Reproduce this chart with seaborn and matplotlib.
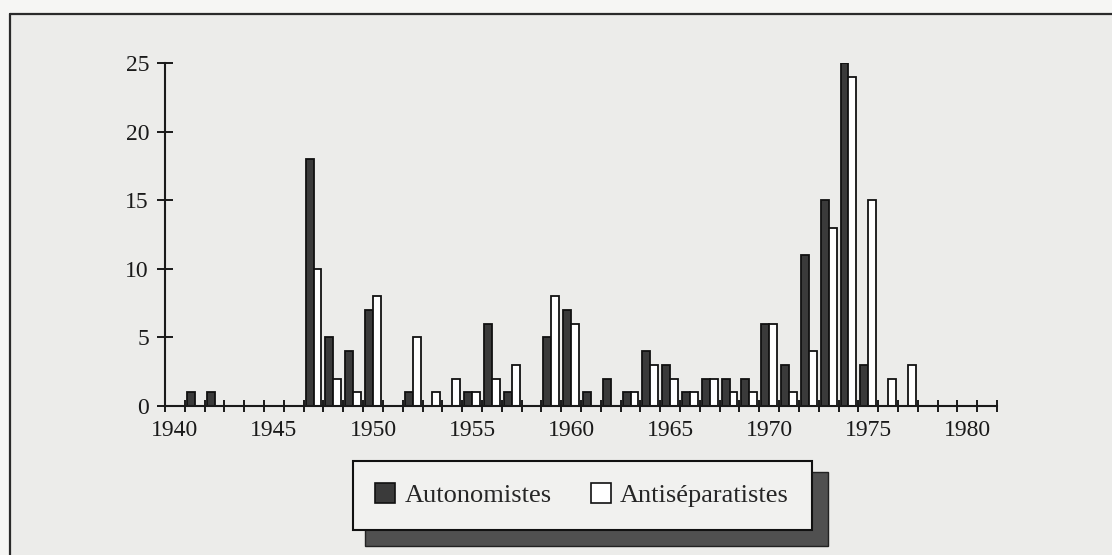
import matplotlib.pyplot as plt
import numpy as np
import pandas as pd
import seaborn as sns
from matplotlib.lines import Line2D
from matplotlib.patches import Rectangle

# Values (events per year)
years = list(range(1940, 1982))
autonomistes = [0, 1, 1, 0, 0, 0, 0, 18, 5, 4,
                7, 0, 1, 0, 0, 1, 6, 1, 0, 5,
                7, 1, 2, 1, 4, 3, 1, 2, 2, 2,
                6, 3, 11, 15, 25, 3, 0, 0, 0, 0,
                0, 0]
antiseparatistes = [0, 0, 0, 0, 0, 0, 0, 10, 2, 1,
                    8, 0, 5, 1, 2, 1, 2, 3, 0, 8,
                    6, 0, 0, 1, 3, 2, 1, 2, 1, 1,
                    6, 1, 4, 13, 24, 15, 2, 3, 0, 0,
                    0, 0]
series_names = ["Autonomistes", "Antiséparatistes"]
label_years = [1940, 1945, 1950, 1955, 1960, 1965, 1970, 1975, 1980]
y_ticks = [0, 5, 10, 15, 20, 25]

df = pd.DataFrame({
    "year": years * 2,
    "count": autonomistes + antiseparatistes,
    "group": [series_names[0]] * len(years) + [series_names[1]] * len(years),
})

sns.set_style("ticks")
plt.rcParams["font.family"] = ["Liberation Serif", "DejaVu Serif"]

W, H = 1112, 555
fig = plt.figure(figsize=(W / 100, H / 100), dpi=100)
fig.patch.set_facecolor("#f6f6f4")

# paper inside the printed frame
fig.add_artist(Rectangle((10 / W, 0), 1, 1 - 14 / H, transform=fig.transFigure,
                         facecolor="#ececea", edgecolor="none", zorder=-3))
fig.add_artist(Line2D([10 / W, 10 / W], [0, 1 - 14 / H], transform=fig.transFigure,
                      color="#2a2a2a", lw=1.6, zorder=-2))
fig.add_artist(Line2D([10 / W, 1], [1 - 14 / H, 1 - 14 / H], transform=fig.transFigure,
                      color="#2a2a2a", lw=1.6, zorder=-2))

ax = fig.add_axes([165 / W, 1 - 406 / H, 832 / W, 343 / H])
ax.set_facecolor("none")

sns.barplot(data=df, x="year", y="count", hue="group", order=years,
            hue_order=series_names,
            palette={series_names[0]: "#3a3a3a", series_names[1]: "white"},
            edgecolor="#111111", linewidth=1.3, width=0.8, ax=ax)

ax.set_xlim(-0.5, len(years) - 0.5)
ax.set_ylim(0, 25)
ax.set_xlabel("")
ax.set_ylabel("")
sns.despine(ax=ax)
for side in ["left", "bottom"]:
    ax.spines[side].set_color("#1a1a1a")
    ax.spines[side].set_linewidth(1.5)

# ticks sit on year boundaries, labels centred on the year
ax.set_xticks(np.arange(-0.5, len(years)), [""] * (len(years) + 1))
ax.set_xticks([years.index(y) for y in label_years], [str(y) for y in label_years],
              minor=True)
ax.tick_params(axis="x", which="major", direction="inout", length=9, width=1.4,
               color="#1a1a1a")
ax.tick_params(axis="x", which="minor", length=0, pad=10, labelsize=17,
               labelcolor="#1a1a1a")
ax.set_yticks(y_ticks, [str(v) for v in y_ticks])
ax.tick_params(axis="y", direction="inout", length=11, width=1.4, pad=6,
               labelsize=17, labelcolor="#1a1a1a", color="#1a1a1a")

handles, labels = ax.get_legend_handles_labels()
leg = ax.legend(handles, labels, loc="upper left",
                bbox_to_anchor=(353 / W, 1 - 461 / H), bbox_transform=fig.transFigure,
                ncol=2, fontsize=19, frameon=True, fancybox=False, borderaxespad=0,
                borderpad=0.85, handlelength=0.75, handleheight=0.75,
                handletextpad=0.35, columnspacing=1.5)
leg.get_frame().set_edgecolor("#111111")
leg.get_frame().set_linewidth(1.5)
leg.get_frame().set_facecolor("#f1f1ef")
leg.get_frame().set_alpha(1)
for h in leg.legend_handles:
    h.set_edgecolor("#111111")
    h.set_linewidth(1.2)

# drop shadow behind the legend box
fig.canvas.draw()
bb = leg.get_window_extent()
fig.add_artist(Rectangle(((bb.x0 + 12) / W, (bb.y0 - 16) / H),
                         (bb.width + 4) / W, (bb.height + 5) / H,
                         transform=fig.transFigure, facecolor="#505050",
                         edgecolor="#222222", lw=1, zorder=-1))

fig.savefig("out.png", dpi=100, facecolor=fig.get_facecolor())
